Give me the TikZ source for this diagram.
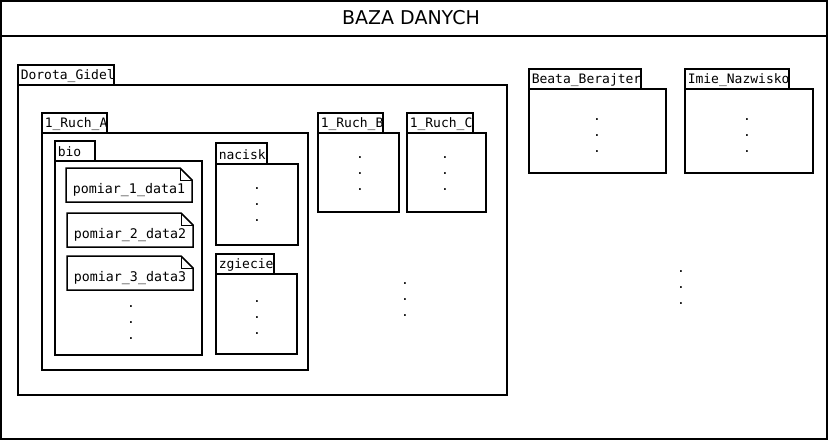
\documentclass[tikz,border=0pt]{standalone}
\usepackage{fontspec}
\setmainfont{DejaVu Sans}
\setmonofont{DejaVu Sans Mono}

\begin{document}
\begin{tikzpicture}[x=1pt, y=-1pt, line width=1.5pt,
		tab/.style = {anchor=west, inner sep=2pt, font=\ttfamily\fontsize{13}{15}\selectfont},
		file/.style = {inner sep=0pt, font=\ttfamily\fontsize{13.3}{15}\selectfont},
		dots/.style = {anchor=base, align=center, inner sep=0pt, font=\ttfamily\fontsize{13}{16}\selectfont}]
		\useasboundingbox (0,0) rectangle (828,440);
		% baza
		\draw[line width=2pt] (1,1) rectangle (827,439);
		\draw[line width=2pt] (1,36) -- (827,36);
		\node[font=\fontsize{19}{22}\selectfont] (baza) at (411,18) {BAZA DANYCH};

		% Dorota_Gidel
		\node[tab] (dorota) at (18,76) {Dorota\_Gidel};
		\draw (18,65) rectangle (114,85);
		\draw (18,85) rectangle (507,395);

		% 1_Ruch_A
		\node[tab] (ruchA) at (42,124) {1\_Ruch\_A};
		\draw (42,113) rectangle (107,133);
		\draw (42,133) rectangle (308,370);

		% bio
		\node[tab] (bio) at (55,152) {bio};
		\draw (55,141) rectangle (95,161);
		\draw (55,161) rectangle (202,355);
		\draw (66,168) -- (180,168) -- (192,180) -- (192,202) -- (66,202) -- cycle;
		\draw[line width=0.8pt] (180,168) -- (180,180) -- (192,180);
		\node[file] (p1) at (129,190) {pomiar\_1\_data1};
		\draw (67,213) -- (181,213) -- (193,225) -- (193,247) -- (67,247) -- cycle;
		\draw[line width=0.8pt] (181,213) -- (181,225) -- (193,225);
		\node[file] (p2) at (130,235) {pomiar\_2\_data2};
		\draw (67,256) -- (181,256) -- (193,268) -- (193,290) -- (67,290) -- cycle;
		\draw[line width=0.8pt] (181,256) -- (181,268) -- (193,268);
		\node[file] (p3) at (130,278) {pomiar\_3\_data3};
		\node[dots] (bioDots) at (131,339) {.\\.\\.};

		% nacisk
		\node[tab] (nacisk) at (216,155) {nacisk};
		\draw (216,143) rectangle (267,164);
		\draw (216,164) rectangle (298,245);
		\node[dots] (nacDots) at (257,221) {.\\.\\.};

		% zgiecie
		\node[tab] (zgiecie) at (216,265) {zgiecie};
		\draw (216,254) rectangle (274,274);
		\draw (216,274) rectangle (297,354);
		\node[dots] (zgDots) at (257,334) {.\\.\\.};

		% 1_Ruch_B, 1_Ruch_C
		\node[tab] (ruchB) at (318,124) {1\_Ruch\_B};
		\draw (318,113) rectangle (383,133);
		\draw (318,133) rectangle (399,212);
		\node[dots] (bDots) at (360,190) {.\\.\\.};
		\node[tab] (ruchC) at (407,124) {1\_Ruch\_C};
		\draw (407,113) rectangle (473,133);
		\draw (407,133) rectangle (486,212);
		\node[dots] (cDots) at (445,190) {.\\.\\.};
		\node[dots] (ruchDots) at (405,316) {.\\.\\.};

		% Beata_Berajter, Imie_Nazwisko
		\node[tab] (beata) at (529,80) {Beata\_Berajter};
		\draw (529,69) rectangle (641,89);
		\draw (529,89) rectangle (666,173);
		\node[dots] (beataDots) at (597,152) {.\\.\\.};
		\node[tab] (imie) at (685,80) {Imie\_Nazwisko};
		\draw (685,69) rectangle (789,89);
		\draw (685,89) rectangle (813,173);
		\node[dots] (imieDots) at (747,152) {.\\.\\.};
		\node[dots] (osobyDots) at (681,304) {.\\.\\.};
	\end{tikzpicture}
\end{document}
